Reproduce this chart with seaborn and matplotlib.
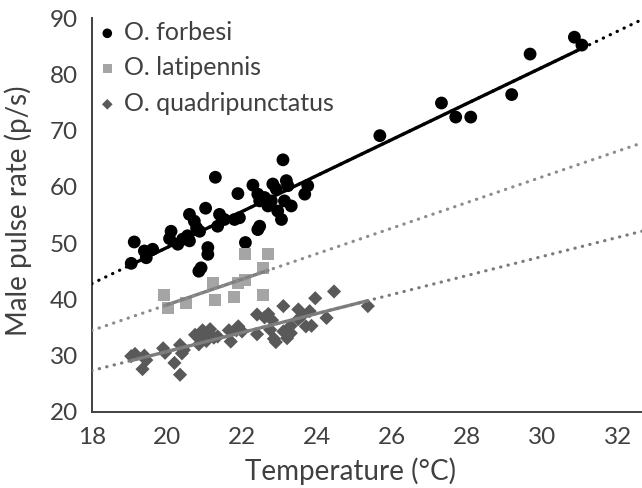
import numpy as np
import pandas as pd
import matplotlib
matplotlib.use("Agg")
import matplotlib.pyplot as plt
import seaborn as sns

# Werte (Temperatur in °C, Pulsrate in p/s)
forbesi_x = [19.05, 19.13, 19.40, 19.45, 19.62, 20.07, 20.11, 20.29, 20.42, 20.55,
             20.60, 20.60, 20.73, 20.79, 20.87, 21.03, 21.09, 21.09, 20.91, 20.85,
             21.29, 21.40, 21.53, 21.35, 21.80, 21.93, 21.89, 22.09, 22.29, 22.42,
             22.47, 22.60, 22.47, 22.42, 22.82, 22.91, 23.18, 23.22, 22.78, 22.69,
             23.09, 23.13, 23.31, 22.95, 23.05, 23.75, 23.67,
             25.67, 27.31, 27.69, 28.09, 29.18, 29.67, 30.85, 31.05]
forbesi_y = [46.4, 50.2, 48.6, 47.4, 48.9, 50.8, 52.1, 49.8, 50.7, 51.3,
             50.4, 55.1, 53.9, 52.7, 52.1, 56.2, 49.2, 48.0, 45.6, 45.0,
             61.7, 55.1, 54.2, 53.0, 54.2, 54.5, 58.8, 50.1, 60.3, 58.7,
             57.5, 58.1, 53.0, 52.4, 60.5, 59.6, 61.1, 60.2, 57.5, 56.6,
             64.8, 57.5, 56.6, 55.7, 54.2, 60.2, 58.7,
             69.1, 74.9, 72.4, 72.4, 76.4, 83.6, 86.6, 85.2]

latipennis_x = [22.07, 22.69, 22.57, 22.07, 21.89, 21.22, 19.93, 20.02, 20.51, 21.29, 21.78, 22.57]
latipennis_y = [48.0, 48.0, 45.6, 43.5, 42.9, 42.9, 40.8, 38.5, 39.3, 39.9, 40.4, 40.8]

quadri_x = [19.05, 19.15, 19.40, 19.45, 19.35, 19.90, 19.95, 20.20, 20.35, 20.35,
            20.45, 20.40, 20.75, 20.85, 20.95, 21.10, 21.15, 21.25, 20.85, 21.05,
            21.35, 21.65, 21.70, 21.85, 21.90, 22.00, 22.40, 22.40, 22.60, 22.70,
            22.80, 22.75, 22.85, 22.90, 23.10, 23.10, 23.20, 23.30, 23.30, 23.50,
            23.60, 23.50, 23.70, 23.85, 23.80, 23.95, 24.25, 24.45, 25.35]
quadri_y = [29.9, 30.3, 30.0, 29.2, 27.6, 31.3, 30.5, 28.7, 26.6, 31.9,
            31.0, 30.4, 33.7, 33.1, 34.5, 33.9, 34.7, 33.2, 32.0, 32.6,
            33.4, 34.5, 32.5, 34.5, 35.2, 34.3, 37.3, 33.8, 36.8, 37.4,
            36.3, 34.6, 33.0, 32.4, 38.8, 34.3, 33.1, 34.0, 35.3, 38.2,
            37.1, 36.5, 35.2, 35.3, 37.9, 40.2, 36.7, 41.4, 38.8]

species = ["O. forbesi", "O. latipennis", "O. quadripunctatus"]
x_ticks = [18, 20, 22, 24, 26, 28, 30, 32]
y_ticks = [20, 30, 40, 50, 60, 70, 80, 90]

df = pd.DataFrame({
    "temp": forbesi_x + latipennis_x + quadri_x,
    "rate": forbesi_y + latipennis_y + quadri_y,
    "species": [species[0]] * len(forbesi_x) + [species[1]] * len(latipennis_x)
               + [species[2]] * len(quadri_x),
})

# ---------------------------------Plot bauen-------------------------------------
sns.set_style("white")
plt.rcParams["font.family"] = ["Lato", "DejaVu Sans"]
text_col = "#404040"

fig = plt.figure(figsize=(6.42, 4.88), dpi=100)
ax = fig.add_axes([0.143, 0.156, 0.857, 0.807])
ax.set_xlim(18, 32.65)
ax.set_ylim(20, 90)

point_cols = {species[0]: "#000000", species[1]: "#a5a5a5", species[2]: "#595959"}
markers = {species[0]: "o", species[1]: "s", species[2]: "D"}
sizes = {species[0]: 85, species[1]: 75, species[2]: 52}
fit_cols = {species[0]: "#000000", species[1]: "#7f7f7f", species[2]: "#7f7f7f"}
dot_cols = {species[0]: "#000000", species[1]: "#8c8c8c", species[2]: "#7a7a7a"}

for sp in species:
    sub = df[df["species"] == sp]
    sns.scatterplot(data=sub, x="temp", y="rate", marker=markers[sp], color=point_cols[sp],
                    s=sizes[sp], edgecolor="none", label=sp, ax=ax, zorder=3)
    # Trendlinie über Datenbereich (durchgezogen) und verlängert (gepunktet)
    sns.regplot(data=sub, x="temp", y="rate", scatter=False, ci=None, truncate=True, ax=ax,
                line_kws={"color": fit_cols[sp], "lw": 2.4, "zorder": 4})
    sns.regplot(data=sub, x="temp", y="rate", scatter=False, ci=None, truncate=False, ax=ax,
                line_kws={"color": dot_cols[sp], "lw": 2.3, "zorder": 5,
                          "dashes": (0.1, 2.3), "dash_capstyle": "round"})

ax.set_xlim(18, 32.65)
ax.set_ylim(20, 90)
ax.set_xticks(x_ticks)
ax.set_yticks(y_ticks)
ax.tick_params(length=0, labelsize=17.5, labelcolor=text_col)
ax.tick_params(axis="y", pad=10)
ax.tick_params(axis="x", pad=11)
for s in ["top", "right"]:
    ax.spines[s].set_visible(False)
for s in ["left", "bottom"]:
    ax.spines[s].set_color("#404040")
    ax.spines[s].set_linewidth(1.4)

ax.set_xlabel("Temperature (°C)", fontsize=20, color=text_col)
ax.set_ylabel("Male pulse rate (p/s)", fontsize=20, color=text_col)
ax.xaxis.set_label_coords(0.47, -0.115)
ax.yaxis.set_label_coords(-0.108, 0.51)

ax.legend(loc="upper left", bbox_to_anchor=(-0.04, 1.05), frameon=False, fontsize=18,
          labelcolor=text_col, handletextpad=0.05, labelspacing=0.5, markerscale=0.75,
          handlelength=1.2)

fig.savefig("out.png", dpi=100)
